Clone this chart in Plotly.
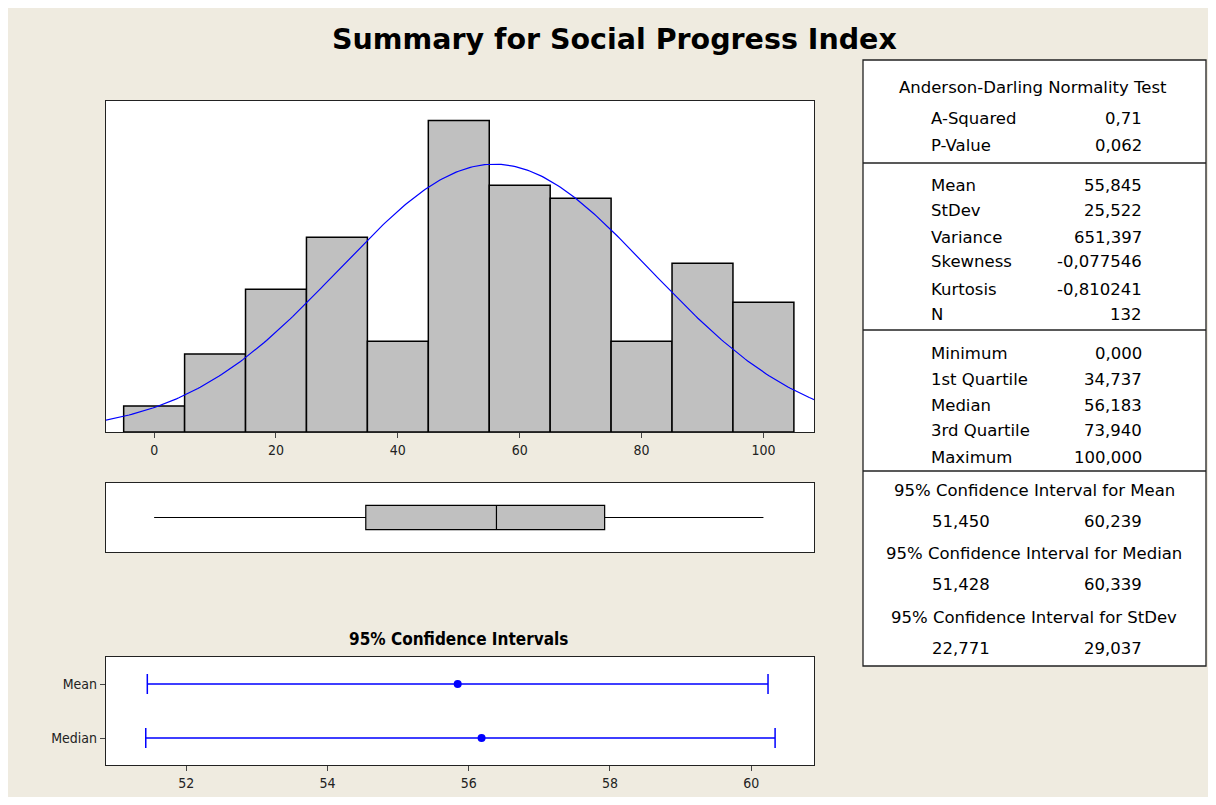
import numpy as np
import plotly.graph_objects as go

# histogram bins (centres, width 10) and counts
bin_centers = [0, 10, 20, 30, 40, 50, 60, 70, 80, 90, 100]
bin_counts = [2, 6, 11, 15, 7, 24, 19, 18, 7, 13, 10]

# summary statistics
mean_val = 55.845
stdev_val = 25.522
n_obs = 132
q_min, q1, q_med, q3, q_max = 0.0, 34.737, 56.183, 73.940, 100.0

# 95% confidence intervals
ci_names = ["Mean", "Median"]
ci_est = [55.845, 56.183]
ci_low = [51.450, 51.428]
ci_high = [60.239, 60.339]

# table text
ad_rows = [("A-Squared", "0,71"), ("P-Value", "0,062")]
moment_rows = [("Mean", "55,845"), ("StDev", "25,522"), ("Variance", "651,397"),
               ("Skewness", "-0,077546"), ("Kurtosis", "-0,810241"), ("N", "132")]
quart_rows = [("Minimum", "0,000"), ("1st Quartile", "34,737"), ("Median", "56,183"),
              ("3rd Quartile", "73,940"), ("Maximum", "100,000")]
ci_rows = [("95% Confidence Interval for Mean", "51,450", "60,239"),
           ("95% Confidence Interval for Median", "51,428", "60,339"),
           ("95% Confidence Interval for StDev", "22,771", "29,037")]

W, H, OFF = 1200, 789, 8
BG = "#EFEBE0"
FONT = "DejaVu Sans"
COND = "DejaVu Sans Condensed, Liberation Sans Narrow, Arial"


def px_(x):
    return (x - OFF) / W


def py_(y):
    return 1 - (y - OFF) / H


fig = go.Figure()

# histogram
fig.add_trace(go.Bar(x=bin_centers, y=bin_counts, width=10,
                     marker=dict(color="#C0C0C0", line=dict(color="black", width=1.5)),
                     xaxis="x", yaxis="y", showlegend=False))

# fitted normal curve from mean / stdev
xs = np.linspace(-8, 108.3, 300)
ys = n_obs * 10 / (stdev_val * np.sqrt(2 * np.pi)) * np.exp(-0.5 * ((xs - mean_val) / stdev_val) ** 2)
fig.add_trace(go.Scatter(x=xs, y=ys, mode="lines", line=dict(color="#0000FF", width=1.2),
                         xaxis="x", yaxis="y", showlegend=False))

# box plot
fig.add_trace(go.Box(y=[0], q1=[q1], median=[q_med], q3=[q3],
                     lowerfence=[q_min], upperfence=[q_max], orientation="h",
                     fillcolor="#C0C0C0", line=dict(color="black", width=1.2),
                     whiskerwidth=0, width=0.35, xaxis="x2", yaxis="y2",
                     showlegend=False, boxpoints=False))

# confidence intervals
fig.add_trace(go.Scatter(
    x=ci_est, y=ci_names, mode="markers",
    marker=dict(color="#0000FF", size=8),
    error_x=dict(type="data", symmetric=False,
                 array=[h - e for h, e in zip(ci_high, ci_est)],
                 arrayminus=[e - l for e, l in zip(ci_est, ci_low)],
                 color="#0000FF", thickness=1.5, width=10),
    xaxis="x3", yaxis="y3", showlegend=False))

frame = dict(showline=True, mirror=True, linecolor="#222", linewidth=1.3,
             showgrid=False, zeroline=False)
tickf = dict(family=COND, size=14, color="#222")

fig.update_layout(
    width=W, height=H, margin=dict(l=0, r=0, t=0, b=0),
    paper_bgcolor=BG, plot_bgcolor="white",
    xaxis=dict(domain=[px_(106), px_(814)], range=[-7.9, 108.3], anchor="y",
               tickvals=[0, 20, 40, 60, 80, 100], ticks="outside", ticklen=5,
               tickfont=tickf, **frame),
    yaxis=dict(domain=[py_(432), py_(101)], range=[0, 25.5], showticklabels=False,
               anchor="x", **frame),
    xaxis2=dict(domain=[px_(106), px_(814)], matches="x", showticklabels=False,
                anchor="y2", **frame),
    yaxis2=dict(domain=[py_(552), py_(483)], range=[-0.5, 0.5], showticklabels=False,
                anchor="x2", **frame),
    xaxis3=dict(domain=[px_(106), px_(814)], range=[50.865, 60.89], anchor="y3",
                tickvals=[52, 54, 56, 58, 60], ticks="outside", ticklen=5,
                tickfont=tickf, **frame),
    yaxis3=dict(domain=[py_(765), py_(657)], type="category",
                categoryorder="array", categoryarray=["Median", "Mean"],
                range=[-0.5, 1.5], ticks="outside", ticklen=5,
                tickfont=tickf, anchor="x3", **frame),
)

ann = []
ann.append(dict(text="<b>Summary for Social Progress Index</b>", x=px_(614), y=py_(40),
                font=dict(family=FONT, size=28.5, color="black")))
ann.append(dict(text="<b>95% Confidence Intervals</b>", x=px_(458), y=py_(639),
                font=dict(family=COND, size=17, color="black")))

# stats table
tf = dict(family=FONT, size=16.5, color="black")
ann.append(dict(text="Anderson-Darling Normality Test", x=px_(1033), y=py_(87), font=tf))
lab_x, val_x = 929, 1144
row_y = {0: [119, 146], 1: [185, 211, 237, 262, 289, 314], 2: [353, 379, 405, 430, 457]}
for gi, rows in enumerate([ad_rows, moment_rows, quart_rows]):
    for (lab, val), yy in zip(rows, row_y[gi]):
        ann.append(dict(text=lab, x=px_(lab_x), y=py_(yy), xanchor="left", font=tf))
        ann.append(dict(text=val, x=px_(val_x), y=py_(yy), xanchor="right", font=tf))
for (head, lo, hi), yy in zip(ci_rows, [490, 553, 617]):
    ann.append(dict(text=head, x=px_(1034), y=py_(yy), font=tf))
    ann.append(dict(text=lo, x=px_(930), y=py_(yy + 31), xanchor="left", font=tf))
    ann.append(dict(text=hi, x=px_(val_x), y=py_(yy + 31), xanchor="right", font=tf))

for a in ann:
    a.update(xref="paper", yref="paper", showarrow=False)
    a.setdefault("xanchor", "center")
    a["yanchor"] = "middle"
fig.update_layout(annotations=ann)

shapes = [dict(type="rect", x0=px_(863), x1=px_(1206), y0=py_(666), y1=py_(60),
               line=dict(color="#222", width=1.3), fillcolor="white", layer="below")]
for yy in [163, 330, 471]:
    shapes.append(dict(type="line", x0=px_(863), x1=px_(1206), y0=py_(yy), y1=py_(yy),
                       line=dict(color="#222", width=1.3)))
for s in shapes:
    s.update(xref="paper", yref="paper")
fig.update_layout(shapes=shapes)

fig.write_html("out.html")
